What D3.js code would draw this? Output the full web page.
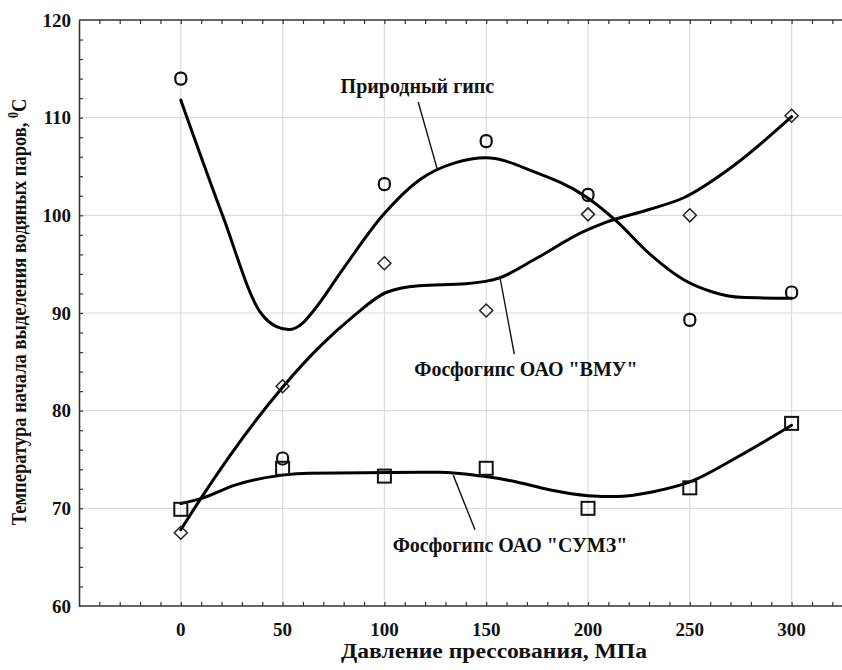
<!DOCTYPE html>
<html>
<head>
<meta charset="utf-8">
<script src="https://cdn.jsdelivr.net/npm/d3@7"></script>
<style>
  body { margin: 0; background: #fff; }
  text { font-family: 'Liberation Serif', 'Times New Roman', serif; font-weight: bold; fill: #111; }
</style>
</head>
<body>
<div id="chart"></div>
<script>
const pressure = [0, 50, 100, 150, 200, 250, 300]

// measured points
const gypsumPts = [114.0, 75.1, 103.2, 107.6, 102.1, 89.3, 92.1]
const vmuPts = [67.5, 82.5, 95.1, 90.25, 100.1, 100.0, 110.2]
const sumzPts = [69.9, 74.1, 73.3, 74.1, 70.0, 72.1, 78.7]

// smoothed curves as [pressure, temperature]
const gypsumCurve = [[0, 111.8], [20.5, 100], [39.3, 90], [47, 88.6], [53, 88.3], [60, 89], [64.3, 90],
  [80, 94.6], [99.2, 100], [117, 103.6], [135, 105.4], [150, 105.9], [173, 104.5], [199, 101.9],
  [214, 99.4], [230, 96.1], [247, 93.4], [262, 92.1], [275, 91.6], [300, 91.5]]
const vmuCurve = [[0, 67.8], [9.8, 71], [50, 82.4], [68, 86.5], [84.4, 89.6], [100.8, 92.1], [117, 92.8],
  [140, 93.0], [156.6, 93.6], [173, 95.4], [197.5, 98.3], [209, 99.3], [230, 100.6], [247, 101.8],
  [271, 105], [300, 110.1]]
const sumzCurve = [[0, 70.5], [9.8, 71], [27, 72.4], [50, 73.4], [63, 73.6], [117, 73.7], [127, 73.7],
  [148, 73.3], [165, 72.7], [181, 71.9], [200, 71.3], [214, 71.2], [232, 71.7], [250, 72.7],
  [273, 75.2], [300, 78.5]]

const xTicks = [0, 50, 100, 150, 200, 250, 300]
const yTicks = [60, 70, 80, 90, 100, 110, 120]

const width = 842
const height = 670

const x = d3.scaleLinear().domain([-50, 325]).range([79, 842.5])
const y = d3.scaleLinear().domain([60, 120]).range([606, 20])

const svg = d3.select('#chart').append('svg')
  .attr('width', width)
  .attr('height', height)

// grid
svg.append('g')
  .selectAll('line')
  .data(xTicks)
  .join('line')
  .attr('x1', d => x(d)).attr('x2', d => x(d))
  .attr('y1', y(60)).attr('y2', y(120))
  .attr('stroke', '#dcdcdc')
  .attr('stroke-width', 1.2)

svg.append('g')
  .selectAll('line')
  .data(yTicks.slice(1, -1))
  .join('line')
  .attr('x1', x(-50)).attr('x2', width)
  .attr('y1', d => y(d)).attr('y2', d => y(d))
  .attr('stroke', '#dcdcdc')
  .attr('stroke-width', 1.2)

// axes with small inward minor ticks
const xMinor = d3.range(-40, 330, 10)
const yMinor = d3.range(62, 120, 2)

svg.append('g')
  .attr('transform', `translate(0,${y(60)})`)
  .call(d3.axisTop(x).tickValues(xMinor).tickSize(4).tickFormat('').tickSizeOuter(0))
  .call(g => g.select('.domain').attr('d', `M${x(-50)},0H${width}`))

svg.append('g')
  .attr('transform', `translate(0,${y(120)})`)
  .call(d3.axisBottom(x).tickValues(xMinor).tickSize(4).tickFormat('').tickSizeOuter(0))
  .call(g => g.select('.domain').attr('d', `M${x(-50)},0H${width}`))

svg.append('g')
  .attr('transform', `translate(${x(-50)},0)`)
  .call(d3.axisRight(y).tickValues(yMinor).tickSize(4).tickFormat('').tickSizeOuter(0))

svg.selectAll('.domain').attr('stroke', '#333').attr('stroke-width', 1.6)
svg.selectAll('.tick line').attr('stroke', '#333').attr('stroke-width', 1.2)

// tick labels
svg.append('g')
  .selectAll('text')
  .data(xTicks)
  .join('text')
  .attr('x', d => x(d))
  .attr('y', 636)
  .attr('text-anchor', 'middle')
  .attr('font-size', 19)
  .text(d => d)

svg.append('g')
  .selectAll('text')
  .data(yTicks)
  .join('text')
  .attr('x', 71)
  .attr('y', d => y(d))
  .attr('dy', '0.35em')
  .attr('text-anchor', 'end')
  .attr('font-size', 19)
  .text(d => d)

// axis titles
svg.append('text')
  .attr('transform', 'translate(494,658) scale(1.18,1)')
  .attr('text-anchor', 'middle')
  .attr('font-size', 20)
  .text('Давление прессования, МПа')

const yTitle = svg.append('text')
  .attr('transform', 'translate(26,312) rotate(-90) scale(1,1.15)')
  .attr('text-anchor', 'middle')
  .attr('font-size', 18.5)
yTitle.append('tspan').text('Температура начала выделения водяных паров, ')
yTitle.append('tspan').attr('font-size', 12).attr('dy', -7).text('0')
yTitle.append('tspan').attr('dy', 7).text('С')

// curves
const line = d3.line()
  .x(d => x(d[0]))
  .y(d => y(d[1]))
  .curve(d3.curveMonotoneX)

svg.append('g')
  .selectAll('path')
  .data([gypsumCurve, vmuCurve, sumzCurve])
  .join('path')
  .attr('d', line)
  .attr('fill', 'none')
  .attr('stroke', '#000')
  .attr('stroke-width', 3)
  .attr('stroke-linejoin', 'round')
  .attr('stroke-linecap', 'round')

// markers
svg.append('g')
  .selectAll('rect')
  .data(sumzPts)
  .join('rect')
  .attr('x', (d, i) => x(pressure[i]) - 6.5)
  .attr('y', d => y(d) - 6.5)
  .attr('width', 13)
  .attr('height', 13)
  .attr('fill', 'none')
  .attr('stroke', '#111')
  .attr('stroke-width', 2)

svg.append('g')
  .selectAll('rect')
  .data(gypsumPts)
  .join('rect')
  .attr('x', (d, i) => x(pressure[i]) - 5.5)
  .attr('y', d => y(d) - 6)
  .attr('width', 11)
  .attr('height', 12)
  .attr('rx', 5)
  .attr('fill', 'none')
  .attr('stroke', '#111')
  .attr('stroke-width', 2.2)

svg.append('g')
  .selectAll('path')
  .data(vmuPts)
  .join('path')
  .attr('d', (d, i) => {
    const cx = x(pressure[i]), cy = y(d), r = 6.5
    return `M${cx},${cy - r}L${cx + r},${cy}L${cx},${cy + r}L${cx - r},${cy}Z`
  })
  .attr('fill', 'none')
  .attr('stroke', '#222')
  .attr('stroke-width', 1.5)

// labels with leader lines
const notes = [
  { text: 'Природный гипс', tx: 116.2, ty: 112.5, from: [116.6, 111.6], to: [126, 104.7] },
  { text: 'Фосфогипс ОАО "ВМУ"', tx: 169.5, ty: 83.6, from: [156.8, 93.6], to: [163.8, 85.8] },
  { text: 'Фосфогипс ОАО "СУМЗ"', tx: 161.7, ty: 65.5, from: [133.8, 73.4], to: [144.5, 67.8] }
]

const note = svg.append('g')
  .selectAll('g')
  .data(notes)
  .join('g')

note.append('line')
  .attr('x1', d => x(d.from[0])).attr('y1', d => y(d.from[1]))
  .attr('x2', d => x(d.to[0])).attr('y2', d => y(d.to[1]))
  .attr('stroke', '#111')
  .attr('stroke-width', 1.4)

note.append('text')
  .attr('x', d => x(d.tx))
  .attr('y', d => y(d.ty))
  .attr('text-anchor', 'middle')
  .attr('font-size', 20)
  .text(d => d.text)
</script>
</body>
</html>
